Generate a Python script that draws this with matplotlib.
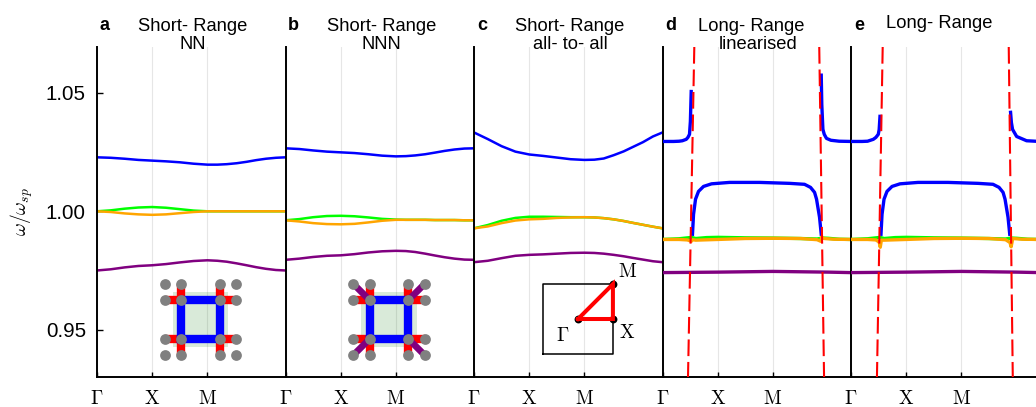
import matplotlib
matplotlib.use('Agg')
import matplotlib.pyplot as plt

plt.rcParams["font.family"] = ["Liberation Sans", "DejaVu Sans"]
plt.rcParams["mathtext.fontset"] = "cm"

OUTPUT_FILE = "out.png"
PATH_END = 3.414

# momentum path of the short range panels
K = [0, .25, .5, .75, 1, 1.25, 1.5, 1.75, 2, 2.18, 2.35, 2.53, 2.71, 2.88, 3.06, 3.24, 3.414]

A_BLUE = [1.0228, 1.0226, 1.0222, 1.0217, 1.0214, 1.0211, 1.0207, 1.0201, 1.0197, 1.0197, 1.0199, 1.0203, 1.0209, 1.0216, 1.0222, 1.0226, 1.0228]
A_GREEN = [1.0, 1.0004, 1.0011, 1.0016, 1.0018, 1.0015, 1.0009, 1.0003, 1.0, 1.0, 1.0, 1.0, 1.0, 1.0, 1.0, 1.0, 1.0]
A_ORANGE = [1.0, .9997, .9991, .9987, .9985, .9987, .9992, .9997, 1.0, 1.0, 1.0, 1.0, 1.0, 1.0, 1.0, 1.0, 1.0]
A_PURPLE = [.9750, .9755, .9763, .9769, .9772, .9777, .9784, .9790, .9793, .9791, .9787, .9780, .9772, .9764, .9757, .9752, .9750]

B_BLUE = [1.0266, 1.0263, 1.0257, 1.0252, 1.0249, 1.0246, 1.0241, 1.0235, 1.0232, 1.0233, 1.0236, 1.0241, 1.0248, 1.0255, 1.0261, 1.0265, 1.0266]
B_GREEN = [.9962, .9967, .9975, .9980, .9981, .9979, .9974, .9968, .9965, .9964, .9964, .9964, .9963, .9963, .9963, .9962, .9962]
B_ORANGE = [.9962, .9957, .9950, .9946, .9945, .9947, .9953, .9960, .9964, .9964, .9964, .9964, .9963, .9963, .9963, .9962, .9962]
B_PURPLE = [.9795, .9800, .9807, .9812, .9814, .9819, .9826, .9831, .9833, .9832, .9828, .9821, .9813, .9806, .9800, .9796, .9795]

C_BLUE = [1.0333, 1.0305, 1.0275, 1.0252, 1.0240, 1.0234, 1.0227, 1.0220, 1.0217, 1.0218, 1.0223, 1.0237, 1.0253, 1.0272, 1.0292, 1.0316, 1.0333]
C_GREEN = [.9928, .9942, .9960, .9972, .9977, .9977, .9976, .9975, .9975, .9974, .9971, .9966, .9959, .9951, .9943, .9935, .9928]
C_ORANGE = [.9928, .9936, .9950, .9961, .9966, .9968, .9972, .9974, .9975, .9974, .9971, .9966, .9959, .9951, .9943, .9935, .9928]
C_PURPLE = [.9785, .9791, .9802, .9812, .9816, .9818, .9821, .9824, .9825, .9824, .9821, .9816, .9810, .9803, .9796, .9789, .9785]

# long range panels: the blue band is cut at the light line
D_LOW_K = [0, .1, .2, .3, .36, .43, .46, .489, .505, .52]
D_LOW = [1.0295, 1.0295, 1.0295, 1.0296, 1.0298, 1.0304, 1.0312, 1.0325, 1.038, 1.0506]
D_HIGH_K = [2.875, 2.885, 2.905, 2.93, 2.97, 3.05, 3.2, 3.414]
D_HIGH = [1.0575, 1.0451, 1.0346, 1.0325, 1.0308, 1.0300, 1.0296, 1.0295]
E_LOW_K = [0, .2, .3, .404, .45, .494, .51, .525]
E_LOW = [1.0295, 1.0295, 1.0296, 1.0304, 1.0312, 1.0325, 1.0345, 1.0401]
E_HIGH_K = [2.89, 2.905, 2.926, 3.0, 3.18, 3.414]
E_HIGH = [1.0418, 1.0375, 1.0346, 1.0316, 1.0298, 1.0295]

MID_K = [.543, .562, .598, .652, .743, .888, 1.214, 1.757, 2.301, 2.572, 2.681, 2.754, 2.79, 2.844, 2.875]
MID = [.9903, .9987, 1.0051, 1.0084, 1.0105, 1.0116, 1.0122, 1.0122, 1.0118, 1.0114, 1.0101, 1.0080, 1.0051, .9975, .9903]

LONG_GREEN_K = [0, .3, .5, .54, .6, .8, 1, 1.5, 2, 2.5, 2.8, 2.9, 3.0, 3.2, 3.414]
LONG_GREEN = [.9881, .9884, .9889, .9889, .9885, .9889, .9890, .9888, .9887, .9885, .9883, .9887, .9886, .9882, .9881]
D_ORANGE_K = [0, .3, .45, .49, .52, .55, .6, 1, 1.5, 2, 2.5, 2.8, 2.87, 2.88, 2.93, 3.1, 3.414]
D_ORANGE = [.9881, .9881, .9879, .9876, .9873, .9880, .9878, .9881, .9885, .9886, .9885, .9880, .9873, .9891, .9885, .9882, .9881]
E_ORANGE_K = [0, .3, .45, .51, .53, .55, .6, 1, 1.5, 2, 2.5, 2.8, 2.88, 2.9, 2.93, 3.1, 3.414]
E_ORANGE = [.9881, .9881, .9879, .9870, .9848, .9878, .9878, .9881, .9885, .9886, .9885, .9880, .9868, .9850, .9885, .9882, .9881]
LONG_PURPLE_K = [0, 1, 2, 3, 3.414]
LONG_PURPLE = [.9741, .9743, .9746, .9743, .9741]

D_RED_K = [[.576, .462], [2.839, 2.926]]
E_RED_K = [[.574, .47], [2.857, 2.93]]
RED_W = [1.0694, .9300]

TICK_POS = [0, 1, 2]
TICK_LABELS = [r"$\Gamma$", r"$\mathrm{X}$", r"$\mathrm{M}$"]
Y_TICKS = [.95, 1.0, 1.05]

LATTICE = [-.436, 0, 1, 1.436]
BZ_X = [0, 1, 1, 0]
BZ_Y = [0, 0, 1, 0]

BLUE, GREEN, ORANGE, PURPLE, RED = "#0000ff", "#00ff00", "#ffa500", "#800080", "#ff0000"


def new_panel(fig, left_px, letter, title, second="", title_x=.509, second_x=None, title_y=30.7):
    ax = fig.add_axes([left_px / 1036, 30 / 407, 188.5 / 1036, 330 / 407])
    ax.set_xlim(0, PATH_END)
    ax.set_ylim(.9300, 1.0694)
    ax.spines["top"].set_visible(False)
    ax.spines["right"].set_visible(False)
    ax.spines["left"].set_linewidth(1.4)
    ax.spines["bottom"].set_linewidth(1.4)
    ax.set_xticks(TICK_POS, TICK_LABELS, fontsize=14)
    ax.tick_params(axis="x", direction="in", length=3.8, width=1, pad=9.5)
    ax.grid(True, axis="x", color="#e6e6e6", linewidth=.8)
    ax.set_axisbelow(True)
    ax.set_yticks([])

    to_y = lambda px: (377 - px) / 330
    ax.text(8 / 188.5, to_y(30), letter, fontsize=13, fontweight="bold", ha="center", va="baseline", transform=ax.transAxes)
    ax.text(title_x, to_y(title_y), title, fontsize=13.2, ha="center", va="baseline", transform=ax.transAxes)
    if second:
        ax.text(title_x if second_x is None else second_x, to_y(49.3), second, fontsize=13.2, ha="center", va="baseline", transform=ax.transAxes)
    return ax


def plot_short(ax, blue, green, orange, purple):
    ax.plot(K, blue, color=BLUE, linewidth=1.8)
    ax.plot(K, green, color=GREEN, linewidth=1.8)
    ax.plot(K, orange, color=ORANGE, linewidth=1.8)
    ax.plot(K, purple, color=PURPLE, linewidth=1.8)


def plot_long(ax, low_k, low, high_k, high, orange_k, orange, red_k):
    for xs, ys in [(low_k, low), (MID_K, MID), (high_k, high)]:
        ax.plot(xs, ys, color=BLUE, linewidth=2.4, zorder=3)
    ax.plot(LONG_GREEN_K, LONG_GREEN, color=GREEN, linewidth=2.4, zorder=3)
    ax.plot(orange_k, orange, color=ORANGE, linewidth=2.4, zorder=3)
    ax.plot(LONG_PURPLE_K, LONG_PURPLE, color=PURPLE, linewidth=2.4, zorder=3)
    for xs in red_k:
        ax.plot(xs, RED_W, color=RED, linewidth=1.5, linestyle=(0, (8, 2.8)), zorder=4)


def add_lattice(ax, with_nnn):
    inset = ax.inset_axes([(103.5 - 57.5) / 188.5, (377 - 319.5 - 57.5) / 330, 115 / 188.5, 115 / 330])
    inset.set_xlim(-1, 2)
    inset.set_ylim(-1, 2)
    inset.axis("off")
    inset.patch.set_alpha(0)

    inset.fill([-.22, 1.22, 1.22, -.22], [-.22, -.22, 1.22, 1.22], color="#2e8b2e", alpha=.18, linewidth=0, zorder=1)
    for cx, sx in [(0, -.436), (1, .436)]:
        for cy, sy in [(0, -.436), (1, .436)]:
            inset.plot([cx, cx + sx], [cy, cy], color=RED, linewidth=6, solid_capstyle="butt", zorder=2)
            inset.plot([cx, cx], [cy, cy + sy], color=RED, linewidth=6, solid_capstyle="butt", zorder=2)
            if with_nnn:
                inset.plot([cx, cx + sx], [cy, cy + sy], color=PURPLE, linewidth=4.8, solid_capstyle="butt", zorder=4)
    inset.plot([0, 1, 1, 0, 0], [0, 0, 1, 1, 0], color=BLUE, linewidth=6, solid_capstyle="projecting", zorder=3)
    sx = [x for x in LATTICE for _ in LATTICE]
    sy = [y for _ in LATTICE for y in LATTICE]
    inset.scatter(sx, sy, s=60, color="#808080", linewidths=0, zorder=5)


def add_zone(ax):
    inset = ax.inset_axes([(104 - 57.5) / 188.5, (377 - 319 - 57.5) / 330, 115 / 188.5, 115 / 330])
    inset.set_xlim(-1.647, 1.647)
    inset.set_ylim(-1.647, 1.647)
    inset.axis("off")
    inset.patch.set_alpha(0)

    inset.plot([-1, 1, 1, -1, -1], [-1, -1, 1, 1, -1], color="black", linewidth=1.1, zorder=2)
    inset.plot(BZ_X, BZ_Y, color=RED, linewidth=2.9, solid_joinstyle="miter", zorder=4)
    inset.scatter(BZ_X[:3], BZ_Y[:3], s=32, color="black", linewidths=0, zorder=3)
    inset.text(-.43, -.49, r"$\Gamma$", fontsize=14, ha="center", va="center")
    inset.text(1.41, -.4, r"$\mathrm{X}$", fontsize=14, ha="center", va="center")
    inset.text(1.41, 1.35, r"$\mathrm{M}$", fontsize=14, ha="center", va="center")


def main():
    fig = plt.figure(figsize=(10.36, 4.07), dpi=100)

    ax_a = new_panel(fig, 97, "a", "Short- Range", "NN")
    ax_b = new_panel(fig, 285.5, "b", "Short- Range", "NNN")
    ax_c = new_panel(fig, 474, "c", "Short- Range", "all- to- all")
    ax_d = new_panel(fig, 662.5, "d", "Long- Range", "linearised", title_x=.472, second_x=.505)
    ax_e = new_panel(fig, 851, "e", "Long- Range", title_x=.467, title_y=27.7)

    plot_short(ax_a, A_BLUE, A_GREEN, A_ORANGE, A_PURPLE)
    plot_short(ax_b, B_BLUE, B_GREEN, B_ORANGE, B_PURPLE)
    plot_short(ax_c, C_BLUE, C_GREEN, C_ORANGE, C_PURPLE)
    plot_long(ax_d, D_LOW_K, D_LOW, D_HIGH_K, D_HIGH, D_ORANGE_K, D_ORANGE, D_RED_K)
    plot_long(ax_e, E_LOW_K, E_LOW, E_HIGH_K, E_HIGH, E_ORANGE_K, E_ORANGE, E_RED_K)

    add_lattice(ax_a, False)
    add_lattice(ax_b, True)
    add_zone(ax_c)

    ax_a.set_yticks(Y_TICKS, ["0.95", "1.00", "1.05"], fontsize=14.8)
    ax_a.tick_params(axis="y", direction="in", length=4.5, width=1, pad=8)
    ax_a.text(-75 / 188.5, .5, r"$\omega/\omega_{sp}$", fontsize=14, rotation=90, ha="center", va="center", transform=ax_a.transAxes)

    fig.savefig(OUTPUT_FILE, dpi=100)
    plt.close(fig)


if __name__ == "__main__":
    main()
